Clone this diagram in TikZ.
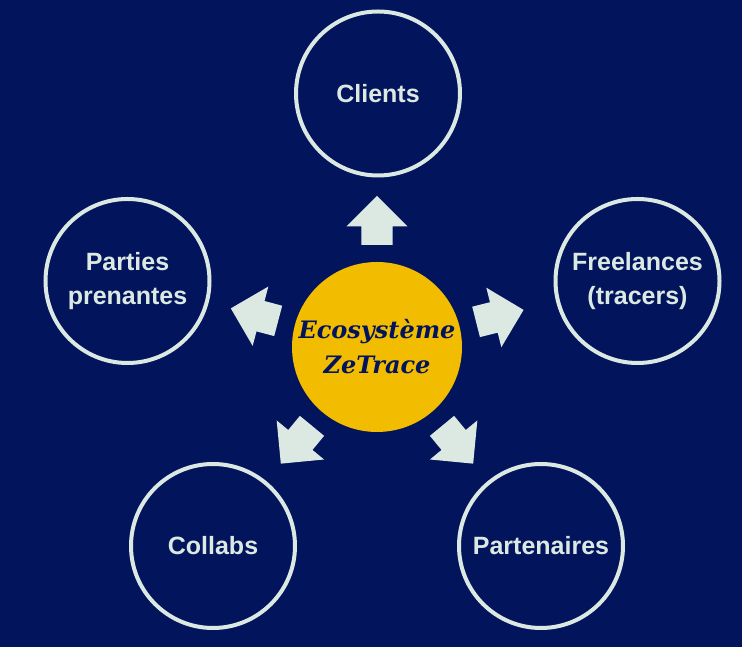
\documentclass[tikz,border=0pt]{standalone}
\usepackage{fontspec}
\setsansfont{Liberation Sans}
\newfontfamily\ecofont{DejaVu Serif}
\usepackage{xcolor}
\definecolor{navy}{RGB}{2,20,92}
\definecolor{gold}{RGB}{242,188,0}
\definecolor{mint}{RGB}{220,233,227}
\usepackage{tikz}
\usetikzlibrary{shapes.arrows}
\usetikzlibrary{positioning}
\usetikzlibrary{calc}

\tikzset{
party/.style={shape=circle,draw=mint,line width=4pt,minimum size=164pt,inner sep=0pt,align=center,text=mint,font=\sffamily\bfseries\fontsize{25}{34}\selectfont},
hub/.style={shape=circle,fill=gold,minimum size=170pt,inner sep=0pt,align=center,text=navy,font=\ecofont\bfseries\itshape\fontsize{24}{35}\selectfont},
blockarrow/.style={single arrow,fill=mint,minimum height=49pt,single arrow head extend=15pt,inner xsep=0pt,inner ysep=15.5pt}
}

\begin{document}
\begin{tikzpicture}[x=1pt,y=1pt]
\fill[navy] (0,0) rectangle (742,647);
\useasboundingbox (0,0) rectangle (742,647);
\node (eco) at (377,300) [hub] {Ecosystème\\ZeTrace};
\node (clients) at (378,553.5) [party] {Clients};
\node (free) at (637.5,366) [party] {Freelances\\(tracers)};
\node (partners) at (541,101) [party] {Partenaires};
\node (collabs) at (213,101) [party] {Collabs};
\node (parties) at (127.5,366) [party] {Parties\\prenantes};
% arrows from the hub towards each circle
\foreach \who/\ang in {clients/90,free/14.2,partners/-50.5,collabs/-129.5,parties/165.2}
  \node (to-\who) at ($(eco)+(\ang:102pt)$) [blockarrow,rotate=\ang,anchor=tail] {};
\end{tikzpicture}
\end{document}
